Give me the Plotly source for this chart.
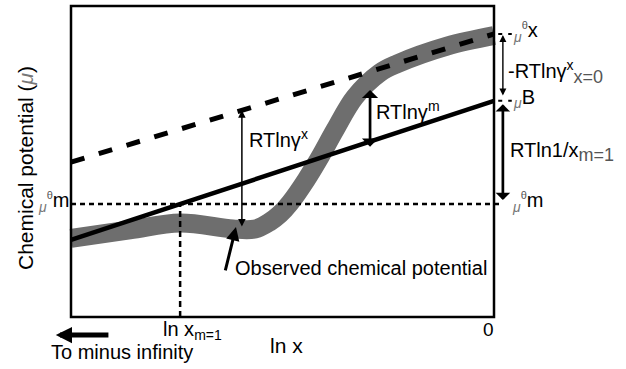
import plotly.graph_objects as go

# ---------------- data (schematic units) ----------------
# horizontal: ln x (frame runs from far negative values up to 0)
# vertical: chemical potential (arbitrary units, frame 0..10)
x_frame = [-10.0, 0.0]
y_frame = [0.0, 10.0]

ref_x_line_x = [-10.0, 0.0]     # dashed reference line ending at mu(theta x)
ref_x_line_y = [4.98, 9.10]
ref_m_line_x = [-10.0, 0.0]     # solid reference line ending at mu B
ref_m_line_y = [2.48, 6.95]
mu_theta_m = 3.63               # dotted standard level mu(theta m)
ln_x_m1 = -7.42                 # ln x at m = 1

observed_x = [-10.0, -8.61, -7.42, -6.17, -5.65, -5.30, -5.06, -4.82, -4.44,
              -4.11, -3.76, -3.29, -2.70, -2.29, -1.11, 0.0]
observed_y = [2.53, 2.80, 3.02, 2.83, 2.83, 3.06, 3.31, 3.67, 4.41,
              5.15, 6.01, 7.07, 7.85, 8.14, 8.71, 9.05]

gamma_x_at = -5.96              # RT ln gamma^x arrow
gamma_x_span = [2.86, 6.65]
gamma_m_at = -2.93              # RT ln gamma^m arrow
gamma_m_span = [5.43, 7.30]
right_at = 0.21                 # arrows to the right of the frame
neg_gamma_x0_span = [7.07, 9.07]
ln_inv_x_span = [3.71, 6.84]
ext_end = 0.42                  # short extensions of levels beyond the frame
observed_tail = (-6.36, 1.45)
observed_head = (-6.10, 2.89)
minus_inf_tail = (-9.08, -0.58)
minus_inf_head = (-10.36, -0.58)

# ---------------- layout geometry ----------------
W, H = 626, 369
FR_L, FR_R, FR_T, FR_B = 71, 494, 6, 317     # frame edges in pixels
sx = (FR_R - FR_L) / (x_frame[1] - x_frame[0])
sy = (FR_B - FR_T) / (y_frame[1] - y_frame[0])
x_range = [x_frame[0] - FR_L / sx, x_frame[0] + (W - FR_L) / sx]
y_range = [y_frame[0] - (H - FR_B) / sy, y_frame[0] + FR_B / sy]

FONT = "Liberation Sans, Arial, sans-serif"
GRAY = "#6e6e6e"

fig = go.Figure()

# observed chemical potential (thick grey band)
fig.add_trace(go.Scatter(x=observed_x, y=observed_y, mode="lines",
                         line=dict(color=GRAY, width=19, shape="spline", smoothing=1.0),
                         hoverinfo="skip"))
# dotted level mu(theta m) and dotted drop at ln x_m=1
fig.add_trace(go.Scatter(x=[x_frame[0], right_at], y=[mu_theta_m, mu_theta_m], mode="lines",
                         line=dict(color="black", width=2.5, dash="5px,4px"), hoverinfo="skip"))
fig.add_trace(go.Scatter(x=[ln_x_m1, ln_x_m1], y=[y_frame[0], mu_theta_m], mode="lines",
                         line=dict(color="black", width=2.5, dash="6px,4px"), hoverinfo="skip"))
# dashed reference line
fig.add_trace(go.Scatter(x=ref_x_line_x, y=ref_x_line_y, mode="lines",
                         line=dict(color="black", width=5, dash="14px,15px"), hoverinfo="skip"))
# solid reference line
fig.add_trace(go.Scatter(x=ref_m_line_x, y=ref_m_line_y, mode="lines",
                         line=dict(color="black", width=4.5), hoverinfo="skip"))
# short dashed extensions to the right-hand labels
for yv in (ref_x_line_y[-1], ref_m_line_y[-1]):
    fig.add_trace(go.Scatter(x=[x_frame[1] + 0.1, ext_end], y=[yv, yv], mode="lines",
                             line=dict(color="black", width=2, dash="4px,6px"), hoverinfo="skip"))

# frame
fig.add_shape(type="rect", xref="x", yref="y", x0=x_frame[0], x1=x_frame[1],
              y0=y_frame[0], y1=y_frame[1], line=dict(color="black", width=2.5), layer="above")


def arrow(x0, y0, x1, y1, width, head, size, both=False):
    d = dict(x=x1, y=y1, ax=x0, ay=y0, xref="x", yref="y", axref="x", ayref="y",
             text="", showarrow=True, arrowhead=head, arrowsize=size, arrowwidth=width,
             arrowcolor="black", standoff=0, startstandoff=0)
    if both:
        d.update(arrowside="end+start", startarrowhead=head, startarrowsize=size)
    fig.add_annotation(**d)


arrow(gamma_x_at, gamma_x_span[0], gamma_x_at, gamma_x_span[1], 1.5, 2, 1.0, both=True)
arrow(gamma_m_at, gamma_m_span[0], gamma_m_at, gamma_m_span[1], 2.7, 1, 1.0, both=True)
arrow(right_at, neg_gamma_x0_span[0], right_at, neg_gamma_x0_span[1], 1.4, 2, 1.0, both=True)
arrow(right_at, ln_inv_x_span[0], right_at, ln_inv_x_span[1], 2.7, 1, 0.9, both=True)
arrow(observed_tail[0], observed_tail[1], observed_head[0], observed_head[1], 3, 2, 0.9)
arrow(minus_inf_tail[0], minus_inf_tail[1], minus_inf_head[0], minus_inf_head[1], 5, 2, 0.65)


def label(text, px, py, size=20, xanchor="center", angle=0, color="black"):
    fig.add_annotation(x=px / W, y=1 - py / H, xref="paper", yref="paper", text=text,
                       showarrow=False, xanchor=xanchor, yanchor="middle", textangle=angle,
                       font=dict(family=FONT, size=size, color=color))


MU = '<span style="color:#777777"><i>μ</i></span>'
TH = '<span style="color:#555555;font-size:11px">θ</span>'
SUBF = '<span style="font-size:18px;color:#555555">'
label("Chemical potential (" + MU + ")", 25, 168, size=21, angle=-90)
label("ln x", 286, 345, size=21)
label("0", 488, 329, size=19)
label("ln x<sub>m=1</sub>", 161, 330, xanchor="left")
label("To minus infinity", 122, 352)
label("Observed chemical potential", 233, 268, xanchor="left")
label("RTlnγ<sup>x</sup>", 247, 139, xanchor="left")
label("RTlnγ<sup>m</sup>", 374, 110, xanchor="left")
label("-RTlnγ<sup>x</sup><sub>" + SUBF + "x=0</span></sub>", 506, 72, xanchor="left")
label("RTln1/x<sub>" + SUBF + "m=1</span></sub>", 508, 152, xanchor="left")
label("<sub>" + MU + "</sub><sup>" + TH + "</sup>x", 511, 32, xanchor="left")
label("<sub>" + MU + "</sub>B", 511, 98, xanchor="left")
label("<sub>" + MU + "</sub><sup>" + TH + "</sup>m", 510, 202, xanchor="left")
label("<sub>" + MU + "</sub><sup>" + TH + "</sup>m", 71, 202, xanchor="right")

fig.update_layout(
    width=W, height=H, margin=dict(l=0, r=0, t=0, b=0),
    paper_bgcolor="white", plot_bgcolor="white", showlegend=False,
    xaxis=dict(range=x_range, visible=False, fixedrange=True),
    yaxis=dict(range=y_range, visible=False, fixedrange=True),
)

fig.write_html("out.html", config={"displayModeBar": False, "staticPlot": True},
               post_script="document.body.style.margin='0';document.body.style.overflow='hidden';")
